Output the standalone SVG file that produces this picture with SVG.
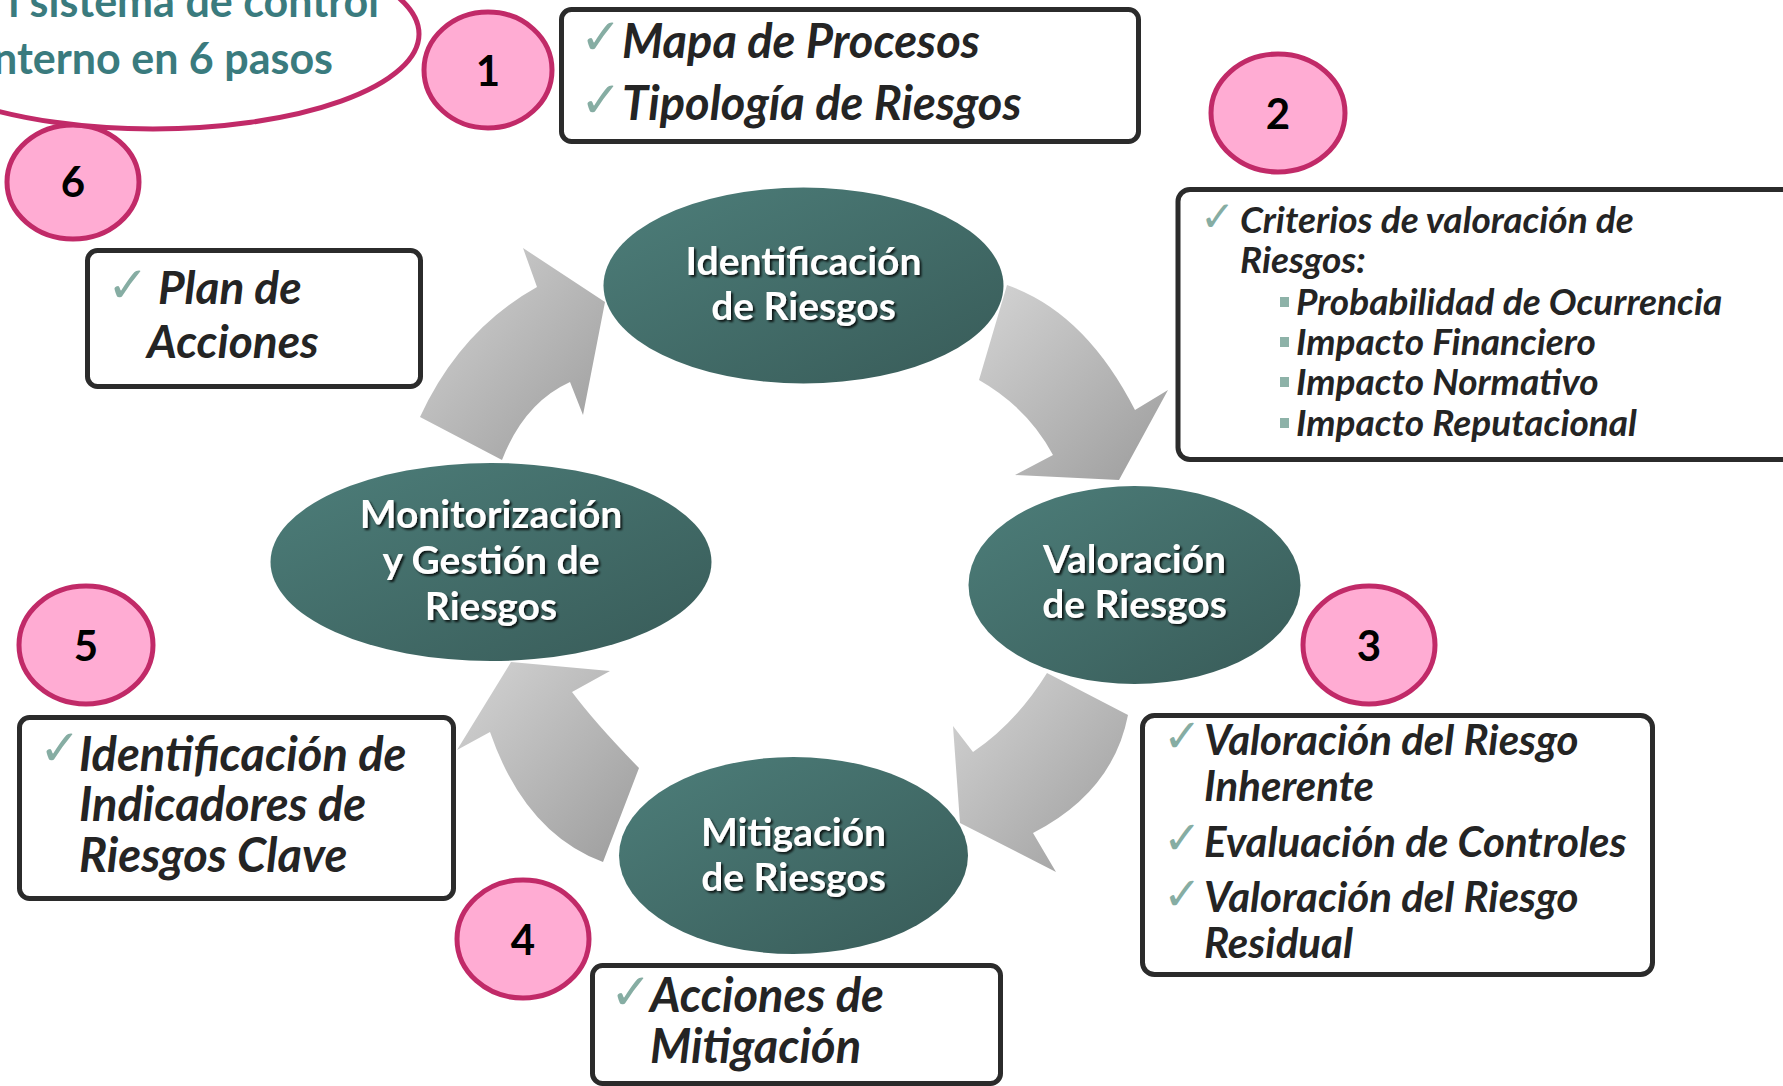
<svg xmlns="http://www.w3.org/2000/svg" width="1783" height="1086" viewBox="0 0 1783 1086">
<defs>
<linearGradient id="tealG" x1="0" y1="0" x2="1" y2="1">
<stop offset="0" stop-color="#4d7e7a"/>
<stop offset="1" stop-color="#385b58"/>
</linearGradient>
<linearGradient id="grayG" x1="0" y1="0" x2="1" y2="1">
<stop offset="0" stop-color="#d4d4d4"/>
<stop offset="1" stop-color="#9c9c9c"/>
</linearGradient>
<filter id="ts" x="-10%" y="-20%" width="125%" height="150%">
<feDropShadow dx="2" dy="2" stdDeviation="1.2" flood-color="#000" flood-opacity="0.8"/>
</filter>
<style>
.box{fill:#fff;stroke:#2b2b2b;stroke-width:5}
.num{fill:#ffacd3;stroke:#c12a68;stroke-width:5}
.numt{font-family:Lato,"Liberation Sans",sans-serif;font-weight:700;font-size:42px;fill:#000;text-anchor:middle}
.node{fill:url(#tealG)}
.nt{font-family:Lato,"Liberation Sans",sans-serif;font-weight:700;font-size:39px;fill:#fff;text-anchor:middle;filter:url(#ts)}
.bt{font-family:Lato,"Liberation Sans",sans-serif;font-weight:700;font-style:italic;fill:#242424}
.chk{font-family:"DejaVu Sans",sans-serif;fill:#86ada3}
.bul{fill:#8db2a8}
.title{font-family:Lato,"Liberation Sans",sans-serif;font-weight:700;font-size:43px;fill:#3a7b7e;text-anchor:end}
.arrow{fill:url(#grayG)}
</style>
</defs>
<rect width="1783" height="1086" fill="#fff"/>

<g id="connectors">
<path class="arrow" d="M420,417 Q460,330 537,287 L523,248 L605,302 L583,415 L570,382 Q524,403 502,460 Z"/>
<path class="arrow" d="M1007,285 Q1085,312 1135,410 L1168,390 L1119,480 L1015,475 L1053,455 Q1028,408 979,380 Z"/>
<path class="arrow" d="M1128,715 Q1113,792 1033,833 L1056,872 L960,823 L953,726 L973,752 Q1016,723 1047,673 Z"/>
<path class="arrow" d="M603,862 Q525,833 490,732 L457,750 L511,662 L610,671 L572,692 Q596,724 639,768 Z"/>
</g>

<g id="step6">
<ellipse class="num" cx="73" cy="182" rx="66" ry="57"/>
<text class="numt" x="73" y="197">6</text>
</g>

<g id="title">
<ellipse cx="153" cy="34" rx="266" ry="95" fill="#fff" stroke="#c12a68" stroke-width="5"/>
<text class="title" x="379" y="17">l sistema de control</text>
<text class="title" x="333" y="74">nterno en 6 pasos</text>
</g>

<g id="step1">
<ellipse class="num" cx="488" cy="70" rx="64" ry="58"/>
<text class="numt" x="488" y="86">1</text>
</g>
<g id="step2">
<ellipse class="num" cx="1278" cy="113" rx="67" ry="59"/>
<text class="numt" x="1278" y="129">2</text>
</g>
<g id="step3">
<ellipse class="num" cx="1369" cy="645" rx="66" ry="59"/>
<text class="numt" x="1369" y="661">3</text>
</g>
<g id="step4">
<ellipse class="num" cx="523" cy="939" rx="66" ry="59"/>
<text class="numt" x="523" y="955">4</text>
</g>
<g id="step5">
<ellipse class="num" cx="86" cy="645" rx="67" ry="59"/>
<text class="numt" x="86" y="661">5</text>
</g>

<g id="node-identificacion">
<ellipse class="node" cx="803.5" cy="285.5" rx="200" ry="98"/>
<text class="nt" x="803.5" y="275">Identificación</text>
<text class="nt" x="803.5" y="320">de Riesgos</text>
</g>
<g id="node-valoracion">
<ellipse class="node" cx="1134.5" cy="585" rx="166" ry="99"/>
<text class="nt" x="1134.5" y="573">Valoración</text>
<text class="nt" x="1134.5" y="618">de Riesgos</text>
</g>
<g id="node-mitigacion">
<ellipse class="node" cx="793.5" cy="855.5" rx="174.5" ry="98.5"/>
<text class="nt" x="793.5" y="846">Mitigación</text>
<text class="nt" x="793.5" y="891">de Riesgos</text>
</g>
<g id="node-monitorizacion">
<ellipse class="node" cx="491" cy="562" rx="220.5" ry="99"/>
<text class="nt" x="491" y="528">Monitorización</text>
<text class="nt" x="491" y="574">y Gestión de</text>
<text class="nt" x="491" y="620">Riesgos</text>
</g>

<g id="box1">
<rect class="box" x="561.5" y="9.5" width="577" height="132" rx="10"/>
<text class="chk" x="580" y="54" font-size="50">✓</text>
<text class="bt" x="622" y="58" font-size="47">Mapa de Procesos</text>
<text class="chk" x="580" y="117" font-size="50">✓</text>
<text class="bt" x="622" y="120" font-size="47">Tipología de Riesgos</text>
</g>

<g id="box2">
<rect class="box" x="1178" y="189.5" width="620" height="270" rx="12"/>
<text class="chk" x="1200" y="231" font-size="42">✓</text>
<text class="bt" x="1240" y="233" font-size="37">Criterios de valoración de</text>
<text class="bt" x="1240" y="273" font-size="37">Riesgos:</text>
<rect class="bul" x="1280" y="297" width="9" height="10"/>
<text class="bt" x="1296" y="315" font-size="37">Probabilidad de Ocurrencia</text>
<rect class="bul" x="1280" y="337" width="9" height="10"/>
<text class="bt" x="1296" y="355" font-size="37">Impacto Financiero</text>
<rect class="bul" x="1280" y="377" width="9" height="10"/>
<text class="bt" x="1296" y="395" font-size="37">Impacto Normativo</text>
<rect class="bul" x="1280" y="418" width="9" height="10"/>
<text class="bt" x="1296" y="436" font-size="37">Impacto Reputacional</text>
</g>

<g id="box3">
<rect class="box" x="1142.5" y="715.5" width="510" height="259" rx="12"/>
<text class="chk" x="1163" y="752" font-size="46">✓</text>
<text class="bt" x="1204" y="755" font-size="42">Valoración del Riesgo</text>
<text class="bt" x="1204" y="801" font-size="42">Inherente</text>
<text class="chk" x="1163" y="854" font-size="46">✓</text>
<text class="bt" x="1204" y="857" font-size="42">Evaluación de Controles</text>
<text class="chk" x="1163" y="910" font-size="46">✓</text>
<text class="bt" x="1204" y="912" font-size="42">Valoración del Riesgo</text>
<text class="bt" x="1204" y="958" font-size="42">Residual</text>
</g>

<g id="box4">
<rect class="box" x="592.5" y="965.5" width="408" height="118" rx="10"/>
<text class="chk" x="610" y="1009" font-size="50">✓</text>
<text class="bt" x="650" y="1012" font-size="47">Acciones de</text>
<text class="bt" x="650" y="1063" font-size="47">Mitigación</text>
</g>

<g id="box5">
<rect class="box" x="19.5" y="717.5" width="434" height="181" rx="10"/>
<text class="chk" x="39" y="765" font-size="50">✓</text>
<text class="bt" x="79" y="771" font-size="47">Identificación de</text>
<text class="bt" x="79" y="821" font-size="47">Indicadores de</text>
<text class="bt" x="79" y="872" font-size="47">Riesgos Clave</text>
</g>

<g id="box6">
<rect class="box" x="87.5" y="250.5" width="333" height="136" rx="10"/>
<text class="chk" x="107" y="302" font-size="50">✓</text>
<text class="bt" x="158" y="304" font-size="46">Plan de</text>
<text class="bt" x="147" y="358" font-size="46">Acciones</text>
</g>
</svg>
